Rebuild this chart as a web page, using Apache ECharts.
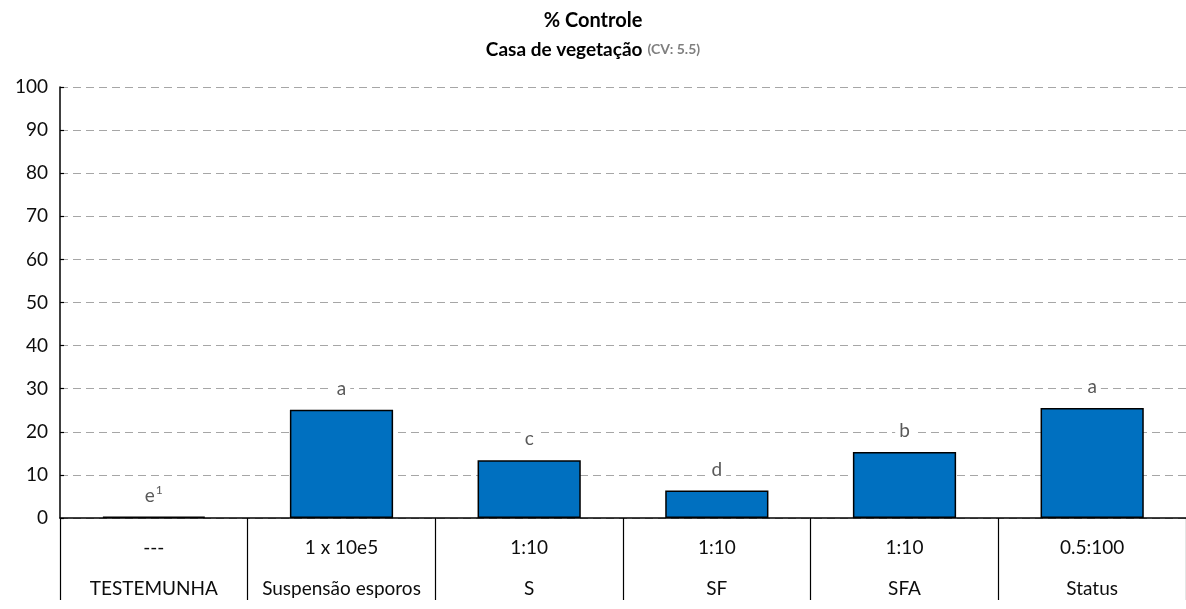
<!DOCTYPE html>
<html>
<head>
<meta charset="utf-8">
<script src="https://cdn.jsdelivr.net/npm/echarts@6/dist/echarts.min.js"></script>
<style>
  html, body { margin: 0; padding: 0; background: #fff; }
  #chart { width: 1186px; height: 609px; }
</style>
</head>
<body>
<div id="chart"></div>
<script>
// Treatments: dose row and product row
const doses = ['---', '1 x 10e5', '1:10', '1:10', '1:10', '0.5:100'];
const treatments = ['TESTEMUNHA', 'Suspensão esporos', 'S', 'SF', 'SFA', 'Status'];
// % control per treatment and the mean-comparison letters
const controlValues = [0.3, 25.1, 13.4, 6.4, 15.3, 25.5];
const letters = ['e', 'a', 'c', 'd', 'b', 'a'];
const footnotes = ['1', '', '', '', '', ''];
const yTicks = { min: 0, max: 100, interval: 10 };

const FONT = 'Lato, "Open Sans", sans-serif';
const chart = echarts.init(document.getElementById('chart'));

chart.setOption({
  animation: false,
  title: [
    {
      text: '% Controle',
      left: 'center',
      top: 6,
      textStyle: { fontFamily: FONT, fontSize: 20, fontWeight: 'bold', color: '#000' }
    },
    {
      text: '{m|Casa de vegetação} {s|(CV: 5.5)}',
      left: 'center',
      top: 35,
      textStyle: {
        rich: {
          m: { fontFamily: FONT, fontSize: 19, fontWeight: 'bold', color: '#000' },
          s: { fontFamily: FONT, fontSize: 14, fontWeight: 'bold', color: '#7f7f7f' }
        }
      }
    }
  ],
  grid: { left: 60, right: 0, top: 87, bottom: 81, containLabel: false },
  xAxis: {
    type: 'category',
    data: treatments.map((t, i) => doses[i] + '\n' + t),
    boundaryGap: true,
    axisLine: { lineStyle: { color: '#000', width: 1.5 } },
    axisTick: { show: true, inside: false, length: 82, lineStyle: { color: '#000', width: 1.2 } },
    axisLabel: {
      interval: 0,
      margin: 9,
      fontFamily: FONT,
      fontSize: 19,
      color: '#0d0d0d',
      lineHeight: 41
    },
    splitLine: { show: false }
  },
  yAxis: {
    type: 'value',
    min: yTicks.min,
    max: yTicks.max,
    interval: yTicks.interval,
    axisLine: { show: true, lineStyle: { color: '#000', width: 1.5 } },
    axisTick: { show: true, inside: true, length: 4, lineStyle: { color: '#000', width: 1.2 } },
    axisLabel: { fontFamily: FONT, fontSize: 19, color: '#0d0d0d', margin: 12 },
    splitLine: { show: true, lineStyle: { color: '#a6a6a6', type: [8, 5], width: 1.2 } }
  },
  series: [{
    type: 'bar',
    data: controlValues,
    barWidth: '55%',
    itemStyle: { color: '#0070C0', borderColor: '#000', borderWidth: 1.5 },
    label: {
      show: true,
      position: 'top',
      distance: 10,
      backgroundColor: '#fff',
      padding: [0, 4],
      formatter: p => footnotes[p.dataIndex]
        ? '{l|' + letters[p.dataIndex] + '}{sup|' + footnotes[p.dataIndex] + '}'
        : '{l|' + letters[p.dataIndex] + '}',
      rich: {
        l: { fontFamily: FONT, fontSize: 19, color: '#595959', lineHeight: 22 },
        sup: { fontFamily: FONT, fontSize: 12, color: '#595959', verticalAlign: 'top', lineHeight: 22, padding: [0, 0, 8, 1] }
      }
    }
  }]
});
</script>
</body>
</html>
